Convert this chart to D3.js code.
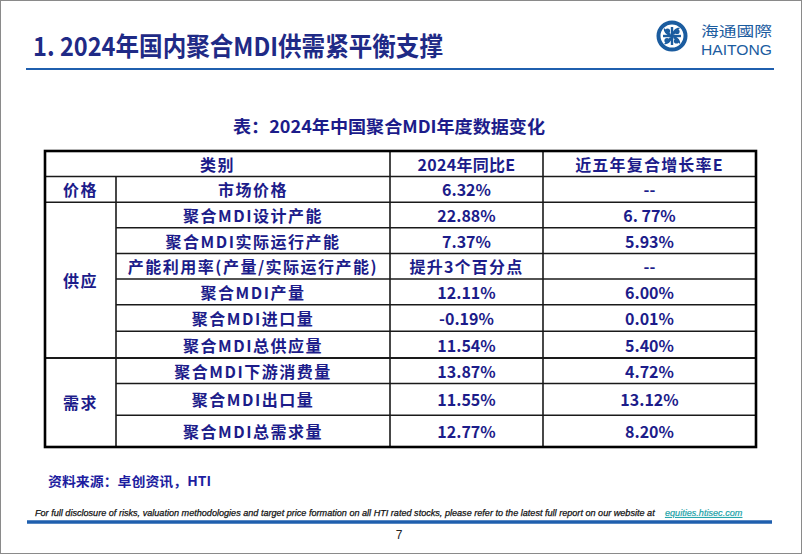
<!DOCTYPE html>
<html><head><meta charset="utf-8">
<script src="https://cdn.jsdelivr.net/npm/d3@7"></script>
<style>
html,body{margin:0;padding:0;background:#fff;}
svg{display:block;}
</style></head>
<body>
<svg id="c" width="802" height="554"></svg>
<script>
// ---- data ----
const pageTitle = "1. 2024年国内聚合MDI供需紧平衡支撑";
const tableTitle = "表：2024年中国聚合MDI年度数据变化";
const headers = ["类别", "2024年同比E", "近五年复合增长率E"];
const groups = ["价格", "供应", "需求"];
const groupSpans = [1, 6, 3];
const items = ["市场价格", "聚合MDI设计产能", "聚合MDI实际运行产能", "产能利用率(产量/实际运行产能)", "聚合MDI产量", "聚合MDI进口量", "聚合MDI总供应量", "聚合MDI下游消费量", "聚合MDI出口量", "聚合MDI总需求量"];
const yoy = ["6.32%", "22.88%", "7.37%", "提升3个百分点", "12.11%", "-0.19%", "11.54%", "13.87%", "11.55%", "12.77%"];
const cagr = ["--", "6. 77%", "5.93%", "--", "6.00%", "0.01%", "5.40%", "4.72%", "13.12%", "8.20%"];
const source = "资料来源：卓创资讯，HTI";
const disclaimer = "For full disclosure of risks, valuation methodologies and target price formation on all HTI rated stocks, please refer to the latest full report on our website at";
const link = "equities.htisec.com";
const pageNo = "7";

// ---- layout ----
const svg = d3.select("#c");
const W = 802, H = 554;
const navy = "#1f2a86";
const txt = "#1c1c8a";
const blue = "#1f5fae";
const cjk = "'Noto Sans CJK SC','Liberation Sans',sans-serif";
const lat = "'Liberation Sans','Noto Sans CJK SC',sans-serif";

svg.append("rect").attr("x",0.5).attr("y",0.5).attr("width",W-1).attr("height",H-1)
  .attr("fill","#fff").attr("stroke","#8a8a8a").attr("stroke-width",1);

// title
svg.append("text").attr("x",33).attr("y",56).text(pageTitle)
  .attr("font-family",cjk).attr("font-weight",700).attr("font-size",26)
  .attr("fill",navy).attr("textLength",410).attr("lengthAdjust","spacingAndGlyphs");
svg.append("line").attr("x1",26).attr("x2",774).attr("y1",69).attr("y2",69)
  .attr("stroke",blue).attr("stroke-width",2.2);

// logo
const lg = svg.append("g").attr("transform","translate(672,36)");
lg.append("circle").attr("r",13.5).attr("fill","none").attr("stroke","#1b5c9f").attr("stroke-width",4);
[0,90,180,270].forEach(a=>{
  lg.append("path").attr("transform",`rotate(${a})`)
    .attr("d","M0,-2 C1,-6 5,-9 8,-8 C6,-6 4,-4 2,-1 Z")
    .attr("fill","#1b5c9f");
  lg.append("circle").attr("transform",`rotate(${a})`).attr("cx",5).attr("cy",-4.5).attr("r",2.6).attr("fill","#1b5c9f");
});
lg.append("rect").attr("x",-1.2).attr("y",-9).attr("width",2.4).attr("height",18).attr("fill","#1b5c9f");
lg.append("rect").attr("x",-9).attr("y",-1.2).attr("width",18).attr("height",2.4).attr("fill","#1b5c9f");
svg.append("text").attr("x",701).attr("y",36).text("海通國際")
  .attr("font-family",cjk).attr("font-size",14).attr("fill","#1b5c9f")
  .attr("textLength",71).attr("lengthAdjust","spacingAndGlyphs");
svg.append("text").attr("x",701).attr("y",55).text("HAITONG")
  .attr("font-family",lat).attr("font-size",14).attr("fill","#1b5c9f")
  .attr("textLength",71).attr("lengthAdjust","spacingAndGlyphs");

// table title
svg.append("text").attr("x",389).attr("y",133).attr("text-anchor","middle").text(tableTitle)
  .attr("font-family",cjk).attr("font-weight",700).attr("font-size",17).attr("fill",txt)
  .attr("textLength",312).attr("lengthAdjust","spacingAndGlyphs");

// table geometry
const tx0 = 45, tx1 = 756, ty0 = 151, ty1 = 447;
const colEdges = [tx0, 116, 390, 543, tx1];
const rowWeights = [1, 1, 1, 1, 1, 1, 1.04, 1.04, 1, 1.24, 1.24];
const cum = [0]; rowWeights.forEach(w=>cum.push(cum[cum.length-1]+w));
const y = d3.scaleLinear().domain([0, cum[cum.length-1]]).range([ty0, ty1]);
const rowTop = i => y(cum[i]), rowBot = i => y(cum[i+1]);

const g = svg.append("g");
const lineC = "#1a1a1a";
for (let i=1;i<rowWeights.length;i++){
  const dataRow = i-1;
  let x1 = colEdges[0];
  let start = 0, isGroupStart = false;
  for (let k=0;k<groupSpans.length;k++){ if (dataRow===start) isGroupStart = true; start += groupSpans[k]; }
  if (i===1) isGroupStart = true;
  if (!isGroupStart) x1 = colEdges[1];
  const yy = rowTop(i);
  g.append("line").attr("x1",x1).attr("x2",tx1).attr("y1",yy).attr("y2",yy)
    .attr("stroke",lineC).attr("stroke-width", isGroupStart && i>2 ? 2 : 1.5);
}
g.append("line").attr("x1",colEdges[1]).attr("x2",colEdges[1]).attr("y1",rowTop(1)).attr("y2",ty1).attr("stroke",lineC).attr("stroke-width",1.6);
[2,3].forEach(c=>g.append("line").attr("x1",colEdges[c]).attr("x2",colEdges[c]).attr("y1",ty0).attr("y2",ty1).attr("stroke",lineC).attr("stroke-width",1.6));
g.append("rect").attr("x",tx0).attr("y",ty0).attr("width",tx1-tx0).attr("height",ty1-ty0)
  .attr("fill","none").attr("stroke","#000").attr("stroke-width",2.6);

function cell(x, yy, s, ls){
  g.append("text").attr("x",x).attr("y",yy).attr("text-anchor","middle")
    .attr("dominant-baseline","central").text(s)
    .attr("font-family",cjk).attr("font-weight",700).attr("font-size",16)
    .attr("letter-spacing", ls).attr("fill",txt);
}
const mid = (a,b)=>(a+b)/2;
cell(mid(colEdges[0],colEdges[2]), mid(rowTop(0),rowBot(0)), headers[0], 1.5);
cell(mid(colEdges[2],colEdges[3]), mid(rowTop(0),rowBot(0)), headers[1], 0.3);
cell(mid(colEdges[3],colEdges[4]), mid(rowTop(0),rowBot(0)), headers[2], 1.2);
let s = 0;
groups.forEach((name,k)=>{
  const r0 = s+1, r1 = s+groupSpans[k];
  cell(mid(colEdges[0],colEdges[1]), mid(rowTop(r0),rowBot(r1)), name, 1.5);
  s += groupSpans[k];
});
items.forEach((it,i)=>{
  const cy = mid(rowTop(i+1),rowBot(i+1));
  cell(mid(colEdges[1],colEdges[2]), cy, it, 1.5);
  cell(mid(colEdges[2],colEdges[3]), cy, yoy[i], /^[0-9\-]/.test(yoy[i]) ? 0 : 1.2);
  cell(mid(colEdges[3],colEdges[4]), cy, cagr[i], 0);
});

// source
svg.append("text").attr("x",48).attr("y",486).text(source)
  .attr("font-family",cjk).attr("font-weight",700).attr("font-size",13).attr("fill","#1d1da0")
  .attr("textLength",163).attr("lengthAdjust","spacingAndGlyphs");

// disclaimer
svg.append("text").attr("x",35).attr("y",516).text(disclaimer)
  .attr("font-family","'Liberation Sans',sans-serif").attr("font-style","italic")
  .attr("font-size",9.1).attr("fill","#111").attr("stroke","#111").attr("stroke-width",0.25);
svg.append("text").attr("x",665).attr("y",516).text(link)
  .attr("font-family","'Liberation Sans',sans-serif").attr("font-style","italic")
  .attr("font-size",9.1).attr("fill","#1aa2a8").attr("stroke","#1aa2a8").attr("stroke-width",0.2)
  .attr("text-decoration","underline");
svg.append("line").attr("x1",27).attr("x2",772).attr("y1",522).attr("y2",522)
  .attr("stroke",blue).attr("stroke-width",3.5);
svg.append("text").attr("x",399).attr("y",539).attr("text-anchor","middle").text(pageNo)
  .attr("font-family",lat).attr("font-size",12).attr("fill","#222");
</script>
</body></html>
